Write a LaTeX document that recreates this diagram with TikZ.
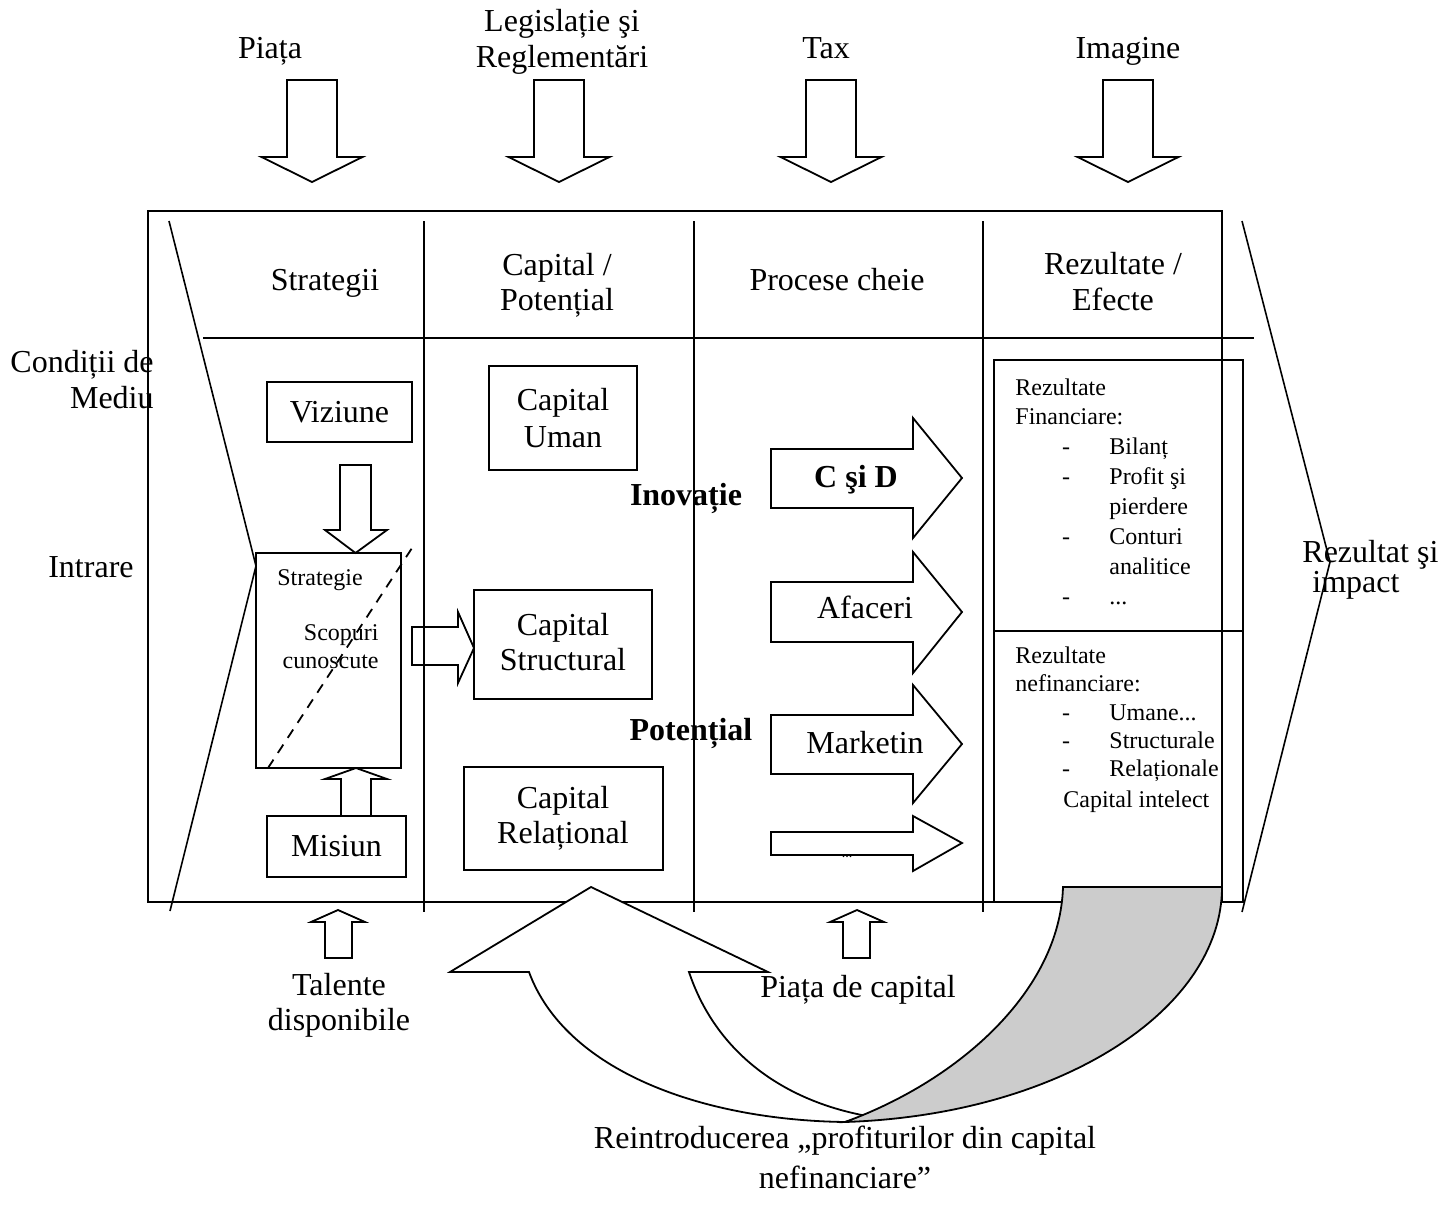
\documentclass[tikz,border=0pt]{standalone}
\usepackage{fontspec}
\setmainfont{Liberation Serif}
\usetikzlibrary{fit}
\begin{document}
\begin{tikzpicture}[x=0.5pt,y=-0.5pt,
  lbl/.style={inner sep=0pt, anchor=base, font=\fontsize{16}{17.5}\selectfont},
  lblw/.style={lbl, anchor=base west},
  lble/.style={lbl, anchor=base east},
  bl/.style={inner sep=0pt, anchor=base, font=\fontsize{16}{17.5}\selectfont\bfseries},
  sml/.style={inner sep=0pt, anchor=base west, font=\fontsize{12}{14}\selectfont},
  smle/.style={sml, anchor=base east},
  dashitem/.style={inner sep=0pt, anchor=base, font=\fontsize{12}{14}\selectfont},
  frameline/.style={line width=1pt},
  slant/.style={line width=0.8pt},
  bx/.style={draw, line width=1pt, inner sep=0pt},
  blk/.style={draw, fill=white, line width=0.9pt, line join=miter},
]
\useasboundingbox (0,0) rectangle (1441,1215);

% ---------- top inputs ----------
\node[lbl] (piata) at (270,58) {Piața};
\node[lbl] (leg1) at (562,32) {Legislație şi};
\node[lbl] (leg2) at (562,67) {Reglementări};
\node[lbl] (tax) at (826,58) {Tax};
\node[lbl] (imag) at (1128,58) {Imagine};
\foreach \c in {312,559,831,1128}{
  \draw[blk] ({\c-25},80) -- ({\c+25},80) -- ({\c+25},157) -- ({\c+50.5},157)
     -- (\c,182) -- ({\c-50.5},157) -- ({\c-25},157) -- cycle;
}

% ---------- main frame ----------
\node[bx, fit={(148,211) (1222,902)}] (frame) {};
\draw[frameline] (424,221) -- (424,912);
\draw[frameline] (694,221) -- (694,912);
\draw[frameline] (983,221) -- (983,912);
\draw[frameline] (203,338) -- (1254,338);
\draw[slant] (169,221) -- (256,566) -- (170,911);
\draw[slant] (1242,221) -- (1330,562) -- (1242,912);

% headers
\node[lbl] (h1) at (325,290) {Strategii};
\node[lbl] (h2a) at (557,275) {Capital /};
\node[lbl] (h2b) at (557,310) {Potențial};
\node[lbl] (h3) at (837,290) {Procese cheie};
\node[lbl] (h4a) at (1113,274) {Rezultate /};
\node[lbl] (h4b) at (1113,310) {Efecte};

% side labels
\node[lble] (cond1) at (154,372) {Condiții de};
\node[lble] (cond2) at (154,408) {Mediu};
\node[lble] (intr) at (134,577) {Intrare};
\node[lblw] (rez1) at (1302,562) {Rezultat şi};
\node[lblw] (rez2) at (1312,592) {impact};

% ---------- strategy column ----------
\node[bx, fit={(267,382) (412,442)}] (viz) {};
\node[lbl] at (339.5,422) {Viziune};
\node[bx, fit={(256,553) (401,768)}] (strat) {};
\draw[line width=0.9pt, dash pattern=on 5pt off 4pt] (268,768) -- (414,545);
\node[sml] at (277,585) {Strategie};
\node[smle] at (379,640) {Scopuri};
\node[smle] at (379,668) {cunoscute};
\node[bx, fit={(267,816) (406,877)}] (mis) {};
\node[lbl] at (336.5,856) {Misiun};
% Viziune -> Strategie
\draw[blk] (340,465) -- (371,465) -- (371,530) -- (387,530) -- (355.5,553)
   -- (325,530) -- (340,530) -- cycle;
% Misiun -> Strategie
\draw[blk] (341,816) -- (371,816) -- (371,779) -- (387,779) -- (356,768)
   -- (325,779) -- (341,779) -- cycle;
% Strategie -> Capital Structural
\draw[draw, line width=0.9pt] (412,627) -- (458,627) -- (458,612) -- (474,648)
   -- (458,683) -- (458,665) -- (412,665) -- cycle;

% ---------- capital column ----------
\node[bx, fit={(489,366) (637,470)}] (uman) {};
\node[lbl] at (563,410) {Capital};
\node[lbl] at (563,447) {Uman};
\node[bx, fit={(474,590) (652,699)}] (struct) {};
\node[lbl] at (563,635) {Capital};
\node[lbl] at (563,670) {Structural};
\node[bx, fit={(464,767) (663,870)}] (rel) {};
\node[lbl] at (563,808) {Capital};
\node[lbl] at (563,843) {Relațional};

% ---------- processes ----------
\node[bl] (inov) at (686,505) {Inovație};
\node[bl] (pot) at (691,740) {Potențial};
\draw[blk] (771,449) -- (913,449) -- (913,418) -- (962,478) -- (913,538) -- (913,508) -- (771,508) -- cycle;
\node[bl] at (856,487) {C şi D};
\draw[blk] (771,582) -- (913,582) -- (913,552) -- (962,612) -- (913,673) -- (913,642) -- (771,642) -- cycle;
\node[lbl] at (865,618) {Afaceri};
\draw[blk] (771,715) -- (913,715) -- (913,685) -- (962,744) -- (913,803) -- (913,774) -- (771,774) -- cycle;
\node[lbl] at (865,753) {Marketin};
\draw[blk] (771,832) -- (913,832) -- (913,816) -- (962,843) -- (913,871) -- (913,855) -- (771,855) -- cycle;
\node[inner sep=0pt, anchor=base, font=\fontsize{7}{8}\selectfont] at (847,857) {...};

% ---------- results ----------
\node[bx, fit={(994,360) (1243,902)}] (res) {};
\draw[line width=1pt] (994,631) -- (1243,631);
\node[sml] at (1015,395) {Rezultate};
\node[sml] at (1015,424) {Financiare:};
\node[dashitem] at (1066,454) {-};
\node[sml] at (1109,454) {Bilanț};
\node[dashitem] at (1066,484) {-};
\node[sml] at (1109,484) {Profit şi};
\node[sml] at (1109,514) {pierdere};
\node[dashitem] at (1066,544) {-};
\node[sml] at (1109,544) {Conturi};
\node[sml] at (1109,574) {analitice};
\node[dashitem] at (1066,604) {-};
\node[sml] at (1109,604) {...};
\node[sml] at (1015,663) {Rezultate};
\node[sml] at (1015,691) {nefinanciare:};
\node[dashitem] at (1066,720) {-};
\node[sml] at (1109,720) {Umane...};
\node[dashitem] at (1066,748) {-};
\node[sml] at (1109,748) {Structurale};
\node[dashitem] at (1066,776) {-};
\node[sml] at (1109,776) {Relaționale};
\node[sml] at (1063,807) {Capital intelect};

% ---------- bottom ----------
\draw[blk] (325,958) -- (352,958) -- (352,922) -- (365,922) -- (338,910)
   -- (311,922) -- (325,922) -- cycle;
\node[lbl] (tal1) at (339,995) {Talente};
\node[lbl] (tal2) at (339,1030) {disponibile};
\draw[blk] (843,958) -- (870,958) -- (870,922) -- (884,922) -- (857,910)
   -- (830,922) -- (843,922) -- cycle;
\node[lbl] (pcap) at (858,997) {Piața de capital};

% curved return arrow
\draw[blk] (529,972) -- (450,972) -- (591,887) -- (768,972) -- (689,972)
   .. controls (715,1050) and (780,1100) .. (867,1116) -- (845,1122)
   .. controls (700,1120) and (565,1070) .. (529,972) -- cycle;
\draw[line width=0.9pt, fill=black!20] (1063,887) -- (1222,887)
   .. controls (1222,1010) and (1060,1115) .. (845,1122)
   .. controls (960,1080) and (1060,990) .. (1063,887) -- cycle;

\node[lbl] (cap1) at (845,1148) {Reintroducerea „profiturilor din capital};
\node[lbl] (cap2) at (845,1188) {nefinanciare”};
\end{tikzpicture}
\end{document}
